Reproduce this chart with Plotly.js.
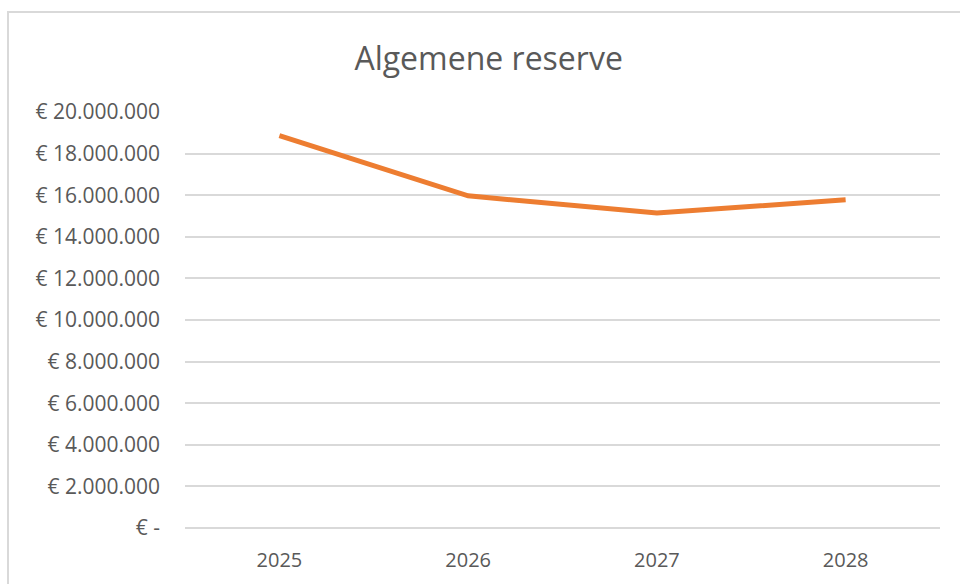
<!DOCTYPE html>
<html>
<head>
<meta charset="utf-8">
<script src="https://cdn.plot.ly/plotly-3.0.1.min.js"></script>
<style>
html,body{margin:0;padding:0;background:#fff;}
#wrap{position:relative;width:960px;height:584px;overflow:hidden;}
#frame{position:absolute;left:7px;top:11px;width:1000px;height:700px;border-left:2px solid #d9d9d9;border-top:2px solid #d9d9d9;pointer-events:none;}
#chart{position:absolute;left:0;top:0;width:960px;height:584px;}
</style>
</head>
<body>
<div id="wrap">
<div id="chart"></div>
<div id="frame"></div>
</div>
<script>
const years = ["2025", "2026", "2027", "2028"];
const reserve = [18860000, 15970000, 15140000, 15780000];
const tickValues = [0, 2000000, 4000000, 6000000, 8000000, 10000000, 12000000, 14000000, 16000000, 18000000, 20000000];
const tickLabels = ["€ -", "€ 2.000.000", "€ 4.000.000", "€ 6.000.000", "€ 8.000.000", "€ 10.000.000", "€ 12.000.000", "€ 14.000.000", "€ 16.000.000", "€ 18.000.000", "€ 20.000.000"];
const chartTitle = "Algemene reserve";

const font = "Open Sans, Liberation Sans, sans-serif";

Plotly.newPlot("chart", [{
  x: years,
  y: reserve,
  type: "scatter",
  mode: "lines",
  line: {color: "#ED7D31", width: 5},
  hoverinfo: "skip"
}], {
  width: 960,
  height: 584,
  margin: {l: 185, r: 20, t: 112, b: 56},
  paper_bgcolor: "#ffffff",
  plot_bgcolor: "#ffffff",
  showlegend: false,
  title: {
    text: chartTitle,
    font: {family: font, size: 32, color: "#595959"},
    x: 0.509, xref: "container", xanchor: "center",
    y: 0.9, yref: "container", yanchor: "middle"
  },
  xaxis: {
    type: "category",
    range: [-0.5, 3.5],
    showgrid: false,
    showline: false,
    zeroline: false,
    ticks: "",
    ticklabelstandoff: 18,
    tickfont: {family: font, size: 20, color: "#595959"},
    fixedrange: true
  },
  yaxis: {
    range: [0, 20000000],
    tickmode: "array",
    tickvals: tickValues,
    ticktext: tickLabels,
    showgrid: true,
    gridcolor: "#d9d9d9",
    gridwidth: 2,
    zeroline: true,
    zerolinecolor: "#d9d9d9",
    zerolinewidth: 2,
    showline: false,
    ticks: "",
    ticklabelstandoff: 24,
    tickfont: {family: font, size: 21, color: "#595959"},
    fixedrange: true
  }
}, {staticPlot: true, displayModeBar: false});
</script>
</body>
</html>
